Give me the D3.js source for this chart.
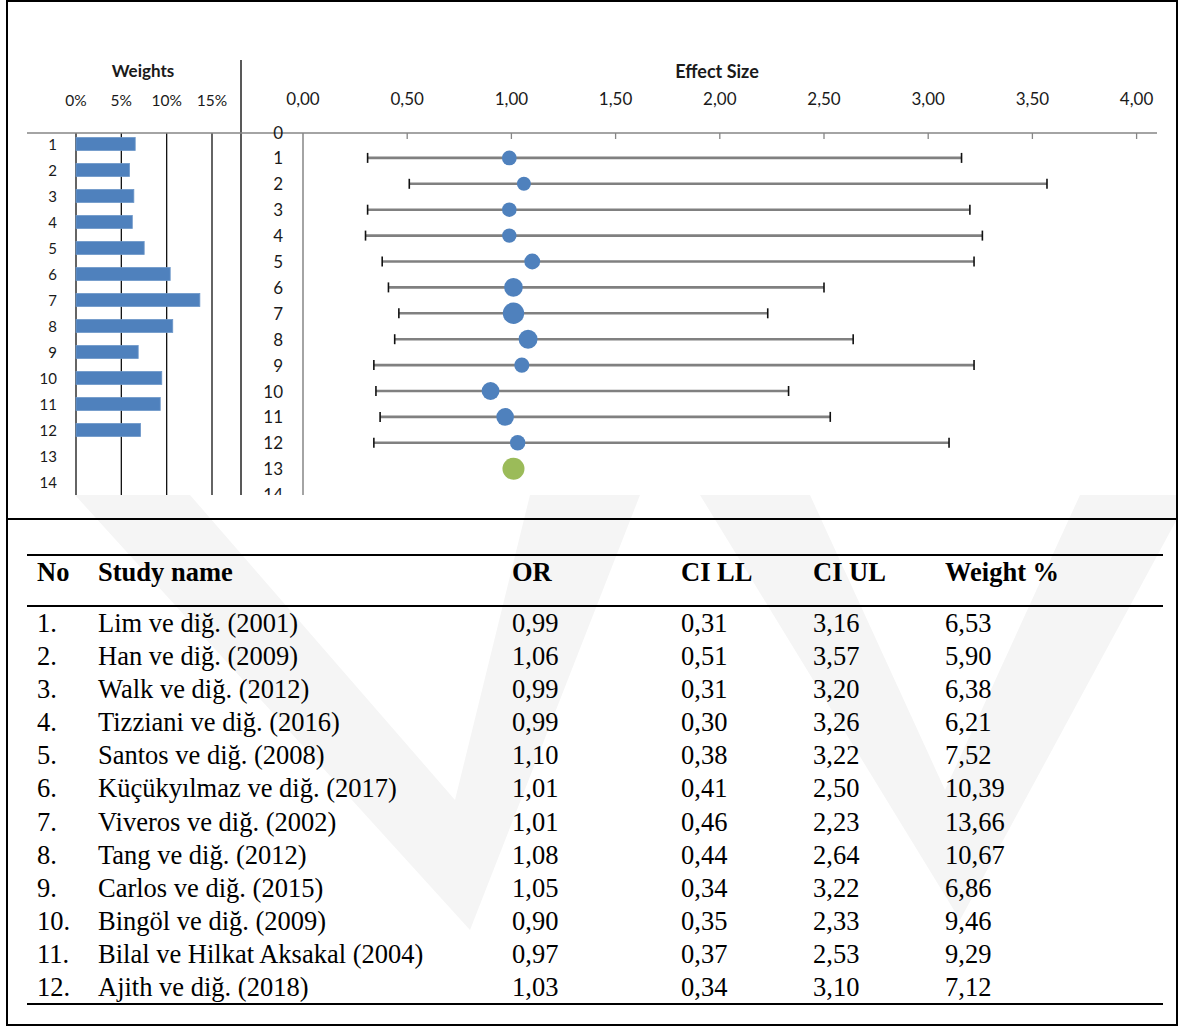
<!DOCTYPE html>
<html>
<head>
<meta charset="utf-8">
<script src="https://cdn.jsdelivr.net/npm/d3@7"></script>
<style>
  body { margin: 0; background: #fff; }
  svg { display: block; }
</style>
</head>
<body>
<svg id="fig" width="1179" height="1027"></svg>
<script>
// ---- study data ----
const studyNo = [1, 2, 3, 4, 5, 6, 7, 8, 9, 10, 11, 12];
const studyNames = [
  "Lim ve diğ. (2001)",
  "Han ve diğ. (2009)",
  "Walk ve diğ. (2012)",
  "Tizziani ve diğ. (2016)",
  "Santos ve diğ. (2008)",
  "Küçükyılmaz ve diğ. (2017)",
  "Viveros ve diğ. (2002)",
  "Tang ve diğ. (2012)",
  "Carlos ve diğ. (2015)",
  "Bingöl ve diğ. (2009)",
  "Bilal ve Hilkat Aksakal (2004)",
  "Ajith ve diğ. (2018)"
];
const oddsRatio = [0.99, 1.06, 0.99, 0.99, 1.10, 1.01, 1.01, 1.08, 1.05, 0.90, 0.97, 1.03];
const ciLower   = [0.31, 0.51, 0.31, 0.30, 0.38, 0.41, 0.46, 0.44, 0.34, 0.35, 0.37, 0.34];
const ciUpper   = [3.16, 3.57, 3.20, 3.26, 3.22, 2.50, 2.23, 2.64, 3.22, 2.33, 2.53, 3.10];
const weightPct = [6.53, 5.90, 6.38, 6.21, 7.52, 10.39, 13.66, 10.67, 6.86, 9.46, 9.29, 7.12];

// pooled estimate (row 13 of the plot)
const pooledOR = 1.01;
const pooledRow = 13;

// ---- axis ticks and row labels ----
const effectTicks = [0, 0.5, 1, 1.5, 2, 2.5, 3, 3.5, 4];
const weightTicks = [0, 5, 10, 15];
const effectRows = d3.range(0, 15);   // 0 .. 14
const weightRows = d3.range(1, 15);   // 1 .. 14
const tableHeaders = ["No", "Study name", "OR", "CI LL", "CI UL", "Weight %"];

// ---- helpers ----
const comma2 = v => d3.format(".2f")(v).replace(".", ",");
const svg = d3.select("#fig");
const defs = svg.append("defs");

const box = { left: 7, top: 1, right: 1177, bottom: 1025 };
const chartBottom = 495;
const dividerY = 519;

// ---- faint background emblem ----
defs.append("clipPath").attr("id", "emblemClip")
  .append("rect").attr("x", box.left).attr("y", chartBottom)
  .attr("width", box.right - box.left).attr("height", box.bottom - chartBottom);
const emblem = svg.append("g").attr("clip-path", "url(#emblemClip)").attr("fill", "#f5f5f5");
emblem.append("polygon").attr("points", "75,495 190,495 455,800 530,495 640,495 470,930");
emblem.append("polygon").attr("points", "700,495 810,495 945,790 1080,495 1190,495 960,920");

// ---- frame ----
svg.append("rect")
  .attr("x", box.left).attr("y", box.top)
  .attr("width", box.right - box.left).attr("height", box.bottom - box.top)
  .attr("fill", "none").attr("stroke", "#000").attr("stroke-width", 2);
svg.append("line")
  .attr("x1", box.left).attr("x2", box.right)
  .attr("y1", dividerY).attr("y2", dividerY)
  .attr("stroke", "#000").attr("stroke-width", 2);

// ---- chart area (clipped at its lower edge) ----
defs.append("clipPath").attr("id", "chartClip")
  .append("rect").attr("x", box.left + 1).attr("y", box.top + 1)
  .attr("width", box.right - box.left - 2).attr("height", chartBottom - box.top - 1);
const chart = svg.append("g").attr("clip-path", "url(#chartClip)");

const labelFont = "Lato, 'Open Sans', sans-serif";
const axisGray = "#868686";
const inkDark = "#1a1a1a";

// scales
const xW = d3.scaleLinear().domain([0, 15]).range([76, 212]);
const yW = d3.scaleBand().domain(weightRows).range([131, 495]).paddingInner(0.5).paddingOuter(0.25);
const xE = d3.scaleLinear().domain([0, 4]).range([303, 1136.6]);
const yE = d3.scaleLinear().domain([0, 14]).range([132, 494.6]);
const rDot = d3.scaleSqrt().domain([0, 13.66]).range([0, 10.7]);

const axisY = 133;

// titles
chart.append("text").attr("x", 143).attr("y", 70)
  .attr("text-anchor", "middle").attr("dominant-baseline", "central")
  .style("font-family", labelFont).style("font-weight", 700).style("font-size", "17px")
  .attr("fill", inkDark).text("Weights");
chart.append("text").attr("x", 717).attr("y", 71)
  .attr("text-anchor", "middle").attr("dominant-baseline", "central")
  .style("font-family", labelFont).style("font-weight", 700).style("font-size", "18px")
  .attr("fill", inkDark).text("Effect Size");

// weights axis labels
chart.append("g").selectAll("text").data(weightTicks).join("text")
  .attr("x", d => xW(d)).attr("y", 100)
  .attr("text-anchor", "middle").attr("dominant-baseline", "central")
  .style("font-family", labelFont).style("font-size", "15.5px")
  .attr("fill", inkDark).text(d => d + "%");

// weights grid
chart.append("g").selectAll("line").data(weightTicks).join("line")
  .attr("x1", d => xW(d)).attr("x2", d => xW(d))
  .attr("y1", axisY).attr("y2", chartBottom)
  .attr("stroke", "#111").attr("stroke-width", 1.3);

// panel separator
chart.append("line").attr("x1", 241).attr("x2", 241).attr("y1", 60).attr("y2", chartBottom)
  .attr("stroke", "#222").attr("stroke-width", 1.5);

// horizontal axis line
chart.append("line").attr("x1", 27).attr("x2", 1157).attr("y1", axisY).attr("y2", axisY)
  .attr("stroke", axisGray).attr("stroke-width", 1.5);

// weight bars
chart.append("g").selectAll("rect").data(weightPct).join("rect")
  .attr("x", xW(0)).attr("y", (d, i) => yW(studyNo[i]))
  .attr("width", d => xW(d) - xW(0)).attr("height", yW.bandwidth())
  .attr("fill", "#4F81BD").attr("stroke", "#6d97c9").attr("stroke-width", 0.8);

// weight row labels
chart.append("g").selectAll("text").data(weightRows).join("text")
  .attr("x", 57).attr("y", d => yW(d) + yW.bandwidth() / 2)
  .attr("text-anchor", "end").attr("dominant-baseline", "central")
  .style("font-family", labelFont).style("font-size", "15px")
  .attr("fill", inkDark).text(d => d);

// effect axis ticks + labels
chart.append("g").selectAll("line").data(effectTicks.filter(d => d > 0)).join("line")
  .attr("x1", d => xE(d)).attr("x2", d => xE(d))
  .attr("y1", axisY).attr("y2", axisY + 6)
  .attr("stroke", axisGray).attr("stroke-width", 1.3);
chart.append("g").selectAll("text").data(effectTicks).join("text")
  .attr("x", d => xE(d)).attr("y", 98)
  .attr("text-anchor", "middle").attr("dominant-baseline", "central")
  .style("font-family", labelFont).style("font-size", "17px")
  .attr("fill", inkDark).text(d => comma2(d));

// vertical axis at 0
chart.append("line").attr("x1", xE(0)).attr("x2", xE(0)).attr("y1", axisY).attr("y2", chartBottom)
  .attr("stroke", axisGray).attr("stroke-width", 1.5);

// effect row labels
chart.append("g").selectAll("text").data(effectRows).join("text")
  .attr("x", 283).attr("y", d => yE(d))
  .attr("text-anchor", "end").attr("dominant-baseline", "central")
  .style("font-family", labelFont).style("font-size", "17px")
  .attr("fill", inkDark).text(d => d);

// confidence intervals
const ci = chart.append("g");
ci.selectAll("line.ci").data(studyNo).join("line").attr("class", "ci")
  .attr("x1", (d, i) => xE(ciLower[i])).attr("x2", (d, i) => xE(ciUpper[i]))
  .attr("y1", d => yE(d)).attr("y2", d => yE(d))
  .attr("stroke", "#808080").attr("stroke-width", 2.6);
ci.selectAll("line.capL").data(studyNo).join("line").attr("class", "capL")
  .attr("x1", (d, i) => xE(ciLower[i])).attr("x2", (d, i) => xE(ciLower[i]))
  .attr("y1", d => yE(d) - 5).attr("y2", d => yE(d) + 5)
  .attr("stroke", "#111").attr("stroke-width", 1.6);
ci.selectAll("line.capU").data(studyNo).join("line").attr("class", "capU")
  .attr("x1", (d, i) => xE(ciUpper[i])).attr("x2", (d, i) => xE(ciUpper[i]))
  .attr("y1", d => yE(d) - 5).attr("y2", d => yE(d) + 5)
  .attr("stroke", "#111").attr("stroke-width", 1.6);

// study estimates, sized by weight
chart.append("g").selectAll("circle").data(studyNo).join("circle")
  .attr("cx", (d, i) => xE(oddsRatio[i])).attr("cy", d => yE(d))
  .attr("r", (d, i) => rDot(weightPct[i]))
  .attr("fill", "#4F81BD");

// pooled estimate
chart.append("circle")
  .attr("cx", xE(pooledOR)).attr("cy", yE(pooledRow)).attr("r", 11)
  .attr("fill", "#9BBB59");

// ---- table ----
const serif = "'Liberation Serif', 'Times New Roman', serif";
const colX = [37, 98, 512, 681, 813, 945];
const ruleX1 = 27, ruleX2 = 1163;
const rules = [555, 606, 1004];
const table = svg.append("g");

table.selectAll("line").data(rules).join("line")
  .attr("x1", ruleX1).attr("x2", ruleX2).attr("y1", d => d).attr("y2", d => d)
  .attr("stroke", "#000").attr("stroke-width", 2);

table.append("g").selectAll("text").data(tableHeaders).join("text")
  .attr("x", (d, i) => colX[i]).attr("y", 572)
  .attr("dominant-baseline", "central")
  .style("font-family", serif).style("font-weight", 700).style("font-size", "26.5px")
  .attr("fill", "#000").text(d => d);

const yRow = d3.scalePoint().domain(studyNo).range([623, 987]);
const rowCells = studyNo.map((n, i) => [
  n + ".", studyNames[i], comma2(oddsRatio[i]), comma2(ciLower[i]), comma2(ciUpper[i]), comma2(weightPct[i])
]);
const rowsG = table.append("g").selectAll("g").data(rowCells).join("g")
  .attr("transform", (d, i) => `translate(0,${yRow(studyNo[i])})`);
rowsG.selectAll("text").data(d => d).join("text")
  .attr("x", (d, j) => colX[j]).attr("y", 0)
  .attr("dominant-baseline", "central")
  .style("font-family", serif).style("font-size", "26.5px")
  .attr("fill", "#000").text(d => d);
</script>
</body>
</html>
